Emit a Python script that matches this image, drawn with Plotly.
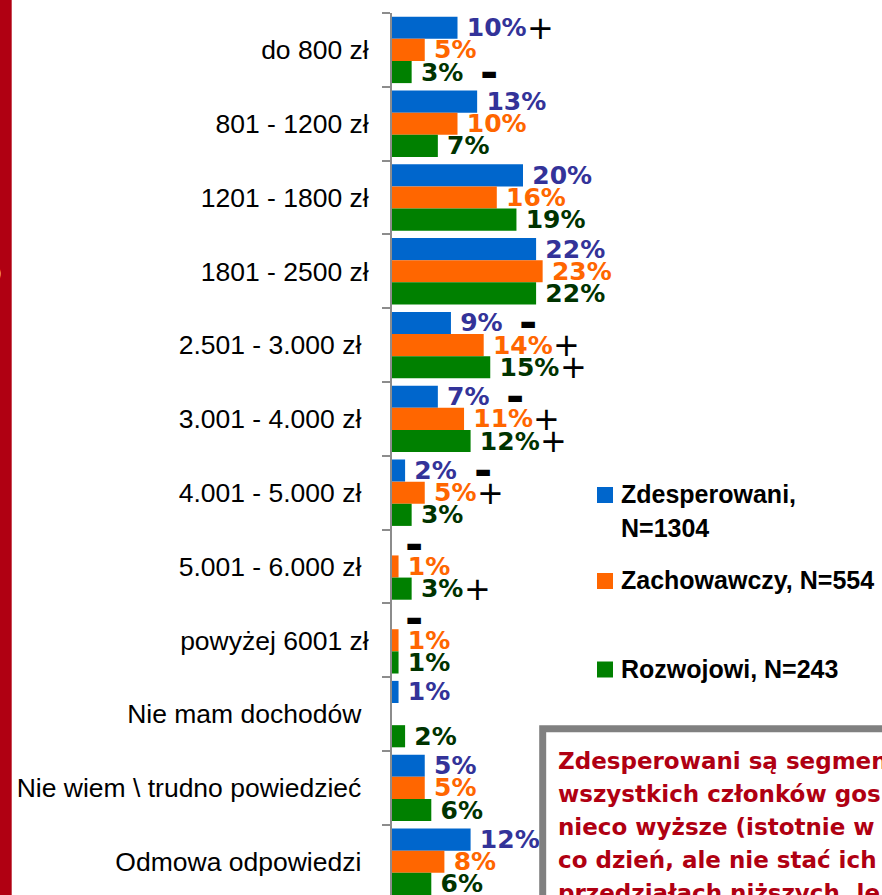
import plotly.graph_objects as go

# ---------------- data ----------------
categories = ["do 800 zł", "801 - 1200 zł", "1201 - 1800 zł", "1801 - 2500 zł",
              "2.501 - 3.000 zł\u00a0", "3.001 - 4.000 zł\u00a0", "4.001 - 5.000 zł\u00a0",
              "5.001 - 6.000 zł\u00a0", "powyżej 6001 zł", "Nie mam dochodów\u00a0",
              "Nie wiem \\ trudno powiedzieć\u00a0", "Odmowa odpowiedzi\u00a0"]

series_names = ["Zdesperowani,<br>N=1304", "Zachowawczy, N=554", "Rozwojowi, N=243"]

zdesperowani = [10, 13, 20, 22, 9, 7, 2, None, None, 1, 5, 12]
zachowawczy = [5, 10, 16, 23, 14, 11, 5, 1, 1, None, 5, 8]
rozwojowi = [3, 7, 19, 22, 15, 12, 3, 3, 1, 2, 6, 6]

# significance marks (+ higher / − lower) per series and category
zdesperowani_sig = ["+", "", "", "", "−", "−", "−", "−", "−", "", "", ""]
zachowawczy_sig = ["", "", "", "", "+", "+", "+", "", "", "", "", ""]
rozwojowi_sig = ["−", "", "", "", "+", "+", "", "+", "", "", "", ""]

note_lines = ["Zdesperowani są segmen",
              "wszystkich członków gos",
              "nieco wyższe (istotnie w",
              "co dzień, ale nie stać ich",
              "przedziałach niższych, le"]

# ---------------- styles ----------------
W, H = 882, 895
L, T = 392, 13
bar_colors = ["#0066CC", "#FF6600", "#008000"]
label_colors = ["#333399", "#FF6600", "#003300"]
values = [zdesperowani, zachowawczy, rozwojowi]
sigs = [zdesperowani_sig, zachowawczy_sig, rozwojowi_sig]
PX_PER_UNIT = 6.55
CAT_PX = 73.8
BARGAP = 0.10
BAR_PX = CAT_PX * (1 - BARGAP) / 3
LABEL_SIZE = 25


def px(x):
    return (x - L) / (W - L)


def py(y):
    return 1 - (y - T) / (H - T)


fig = go.Figure()
for name, vals, bc, lc in zip(series_names, values, bar_colors, label_colors):
    fig.add_trace(go.Bar(
        y=categories, x=vals, orientation="h", name=name,
        marker=dict(color=bc, line=dict(width=0)),
        text=[("\u2005" + f"{v}%") if v is not None else "" for v in vals],
        textposition="outside",
        outsidetextfont=dict(family="DejaVu Sans", size=LABEL_SIZE, color=lc, weight="bold"),
        constraintext="none", cliponaxis=False,
        showlegend=False, hoverinfo="skip",
    ))

annotations = []
shapes = []

# significance marks
for si, (vals, sg) in enumerate(zip(values, sigs)):
    yshift = (1 - si) * BAR_PX
    for ci, s in enumerate(sg):
        if not s:
            continue
        v = vals[ci]
        if v is None:
            xs = 22
        else:
            lw = (0.696 * len(str(v)) + 1.002) * LABEL_SIZE
            xs = 7 + lw + (16 if s == "+" else 28)
        if s == "+":
            font = dict(family="DejaVu Sans", size=32, color="black")
            txt = "+"
        else:
            font = dict(family="DejaVu Sans", size=44, color="black", weight="bold")
            txt = "-"
        annotations.append(dict(
            x=(v or 0), y=categories[ci], xref="x", yref="y", text=txt,
            showarrow=False, xanchor="center", yanchor="middle",
            xshift=xs, yshift=yshift, font=font))

# left red band
shapes.append(dict(type="rect", xref="paper", yref="paper",
                   x0=px(0), x1=px(11.7), y0=py(0), y1=py(H),
                   fillcolor="#B00012", line=dict(width=0), layer="above"))
annotations.append(dict(x=px(4), y=py(273), xref="paper", yref="paper", text=")",
                        showarrow=False, xanchor="right", yanchor="middle",
                        font=dict(family="DejaVu Sans", size=20, color="white", weight="bold")))

# legend
legend_rows = [(495, 528.5), (581, None), (669.5, None)]
for (yc, y2), name, c in zip(legend_rows, series_names, bar_colors):
    shapes.append(dict(type="rect", xref="paper", yref="paper",
                       x0=px(597), x1=px(613), y0=py(yc + 8), y1=py(yc - 8),
                       fillcolor=c, line=dict(width=0)))
    parts = name.split("<br>")
    for k, part in enumerate(parts):
        yy = yc if k == 0 else y2
        annotations.append(dict(x=px(619), y=py(yy - 1), xref="paper", yref="paper",
                                text=part, showarrow=False, xanchor="left", yanchor="middle",
                                font=dict(family="Liberation Sans", size=25, color="black",
                                          weight="bold")))

# note box
shapes.append(dict(type="rect", xref="paper", yref="paper",
                   x0=px(542.7), x1=px(930), y0=py(960), y1=py(728.8),
                   fillcolor="white", line=dict(color="#808080", width=7), layer="above"))
for i, line in enumerate(note_lines):
    annotations.append(dict(x=px(556), y=py(761 + 33 * i), xref="paper", yref="paper",
                            text=line, showarrow=False, xanchor="left", yanchor="middle",
                            font=dict(family="DejaVu Sans", size=23, color="#B00012",
                                      weight="bold")))

fig.update_layout(
    width=W, height=H,
    margin=dict(l=L, r=0, t=T, b=0, pad=0),
    paper_bgcolor="white", plot_bgcolor="white",
    barmode="group", bargap=BARGAP, bargroupgap=0,
    xaxis=dict(range=[0, (W - L) / PX_PER_UNIT], visible=False, fixedrange=True),
    yaxis=dict(type="category", categoryorder="array", categoryarray=categories,
               range=[len(categories) - 0.5 - (len(categories) * CAT_PX - (H - T)) / CAT_PX, -0.5],
               showline=True, linecolor="#8C8C8C", linewidth=2,
               ticks="outside", tickson="boundaries", ticklen=8, tickwidth=2,
               tickcolor="#8C8C8C", showgrid=False, zeroline=False,
               tickfont=dict(family="Liberation Sans", size=26.5, color="black"),
               ticklabelstandoff=16),
    shapes=shapes, annotations=annotations,
    font=dict(family="Liberation Sans"),
)

fig.write_html("out.html", config={"displayModeBar": False})

# remove the browser's default page margin so the figure sits at the window's corner
with open("out.html", "r", encoding="utf-8") as f:
    html = f.read()
html = html.replace("<head>", "<head><style>html,body{margin:0;padding:0;overflow:hidden;}</style>", 1)
with open("out.html", "w", encoding="utf-8") as f:
    f.write(html)
